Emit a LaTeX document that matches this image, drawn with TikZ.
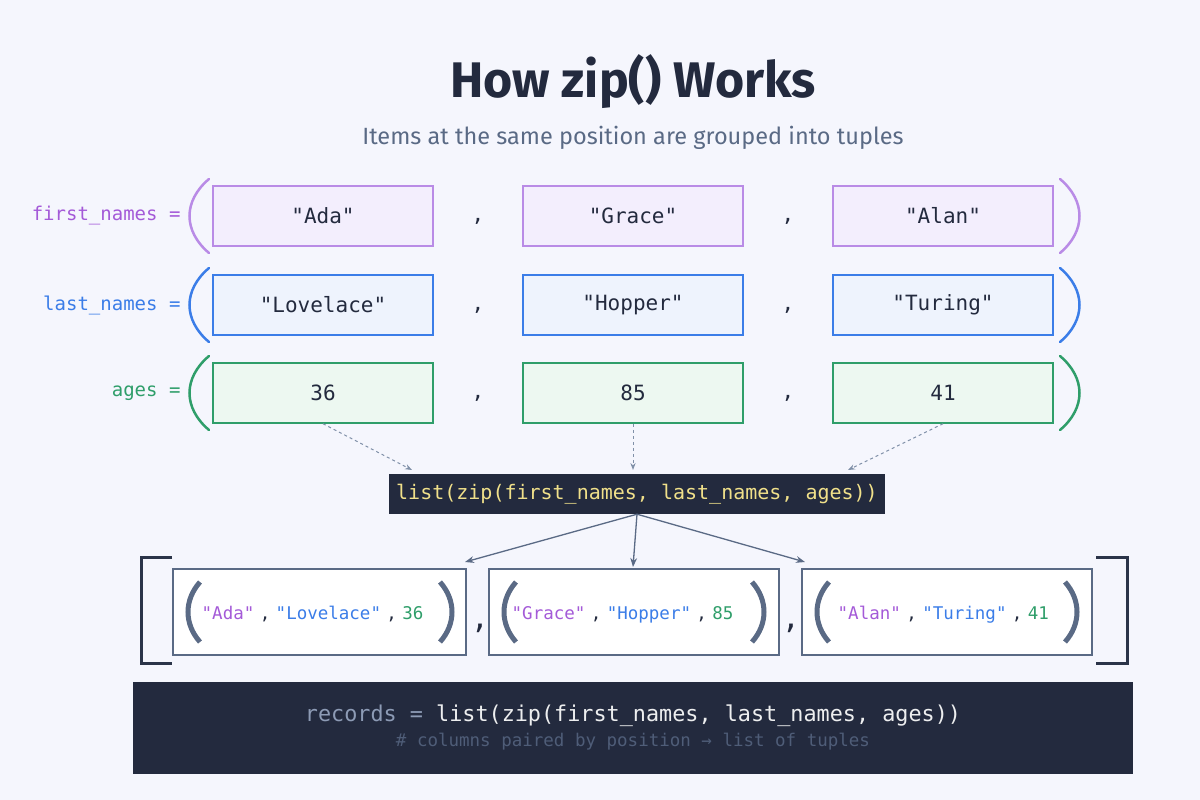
\documentclass[tikz,border=0pt]{standalone}
\usepackage{fontspec}
\setmainfont{Fira Sans}
\newfontfamily\codefont{DejaVu Sans Mono}
\usetikzlibrary{arrows.meta}
\definecolor{bg}{HTML}{F5F6FD}
\definecolor{ink}{HTML}{232A3E}
\definecolor{sub}{HTML}{5A6A85}
\definecolor{pur}{HTML}{A45AD8}
\definecolor{purl}{HTML}{B98BE6}
\definecolor{purf}{HTML}{F3EEFD}
\definecolor{blu}{HTML}{3B7DE8}
\definecolor{bluf}{HTML}{EEF3FD}
\definecolor{grn}{HTML}{2F9E6A}
\definecolor{grnf}{HTML}{EDF8F1}
\definecolor{dash}{HTML}{8090A8}
\definecolor{yel}{HTML}{F0E08A}
\definecolor{cgray}{HTML}{8D9BB5}
\definecolor{cdim}{HTML}{4F5D78}
\tikzset{
 valbox/.style={draw=#1, line width=1.5pt, minimum width=220pt, minimum height=60pt, inner sep=0pt, font=\codefont\fontsize{21}{24}\selectfont, text=ink},
 lbl/.style={anchor=east, font=\codefont\fontsize{19}{22}\selectfont},
 par/.style={line width=2.5pt, line cap=round},
 comma/.style={font=\codefont\fontsize{21}{24}\selectfont, text=ink},
 tbox/.style={draw=sub, fill=white, line width=2pt, minimum height=86pt, inner sep=0pt},
 tpar/.style={draw=sub, line width=5pt},
 tt/.style={font=\codefont\fontsize{17.5}{20}\selectfont, inner sep=2.5pt, anchor=base west},
 darr/.style={draw=dash, dashed, line width=1pt, -{Stealth[length=7pt]}},
 sarr/.style={draw=sub, line width=1.3pt, -{Stealth[length=9pt, open]}},
}
\begin{document}
\begin{tikzpicture}[x=1pt,y=-1pt]
\fill[bg] (0,0) rectangle (1200,800);
\useasboundingbox (0,0) rectangle (1200,800);
\node[font=\bfseries\fontsize{50}{56}\selectfont, text=ink] (title) at (633,82) {How zip() Works};
\node[font=\fontsize{23.5}{28}\selectfont, text=sub] (subt) at (633,138) {Items at the same position are grouped into tuples};
% rows
\foreach \y/\c/\f/\lc/\lab/\a/\b/\d/\n in {216/pur/purf/purl/first\_names =/"Ada"/"Grace"/"Alan"/r1, 305/blu/bluf/blu/last\_names =/"Lovelace"/"Hopper"/"Turing"/r2, 393/grn/grnf/grn/ages =/36/85/41/r3}{
 \node[lbl, text=\c] (\n l) at (184,\y) {\lab};
 \node[valbox=\lc, fill=\f] (\n a) at (323,\y) {\a};
 \node[valbox=\lc, fill=\f] (\n b) at (633,\y) {\b};
 \node[valbox=\lc, fill=\f] (\n c) at (943,\y) {\d};
 \node[comma] (\n x) at (478,\y+5) {,};
 \node[comma] (\n y) at (788,\y+5) {,};
 \draw[par, \lc] (209,\y-37) .. controls (183,\y-15) and (183,\y+15) .. (209,\y+37);
 \draw[par, \lc] (1060,\y-37) .. controls (1086,\y-15) and (1086,\y+15) .. (1060,\y+37);
}
\node[fill=ink, text=yel, font=\codefont\fontsize{20}{22}\selectfont, minimum width=496pt, minimum height=40pt, inner sep=0pt] (call) at (637,494) {list(zip(first\_names, last\_names, ages))};
\coordinate (ta) at (412,470); \coordinate (tb) at (633,470); \coordinate (tc) at (848,470);
\draw[darr] (r3a.south) -- (ta);
\draw[darr] (r3b.south) -- (tb);
\draw[darr] (r3c.south) -- (tc);
% tuples
\node[tbox, minimum width=293pt] (t1) at (319.5,612) {};
\node[tbox, minimum width=290pt] (t2) at (634,612) {};
\node[tbox, minimum width=290pt] (t3) at (947,612) {};
\coordinate (ca) at (465,562); \coordinate (cb) at (633,567); \coordinate (cc) at (805,562);
\draw[sarr] (call.south) -- (ca);
\draw[sarr] (call.south) -- (cb);
\draw[sarr] (call.south) -- (cc);
\draw[line width=3pt, ink!85!sub] (172,557) -- (141,557) -- (141,663) -- (172,663);
\draw[line width=3pt, ink!85!sub] (1096,557) -- (1127,557) -- (1127,663) -- (1096,663);
\foreach \l/\r in {188/452, 504/764, 817/1077}{
 \draw[tpar] (\l+12,582) .. controls (\l-4,600) and (\l-4,624) .. (\l+12,642);
 \draw[tpar] (\r-12,582) .. controls (\r+4,600) and (\r+4,624) .. (\r-12,642);
}
\node[font=\codefont\fontsize{30}{30}\selectfont, text=ink] (k1) at (480,628) {,};
\node[font=\codefont\fontsize{30}{30}\selectfont, text=ink] (k2) at (791,628) {,};
\node[tt, text=pur] (e1) at (199,619) {"Ada"};
\node[tt, text=ink] (f1) at (e1.base east) {,};
\node[tt, text=blu] (g1) at (f1.base east) {"Lovelace"};
\node[tt, text=ink] (h1) at (g1.base east) {,};
\node[tt, text=grn] (i1) at (h1.base east) {36};
\node[tt, text=pur] (e2) at (509,619) {"Grace"};
\node[tt, text=ink] (f2) at (e2.base east) {,};
\node[tt, text=blu] (g2) at (f2.base east) {"Hopper"};
\node[tt, text=ink] (h2) at (g2.base east) {,};
\node[tt, text=grn] (i2) at (h2.base east) {85};
\node[tt, text=pur] (e3) at (835,619) {"Alan"};
\node[tt, text=ink] (f3) at (e3.base east) {,};
\node[tt, text=blu] (g3) at (f3.base east) {"Turing"};
\node[tt, text=ink] (h3) at (g3.base east) {,};
\node[tt, text=grn] (i3) at (h3.base east) {41};
% bottom
\fill[ink] (133,682) rectangle (1133,774);
\node[font=\codefont\fontsize{21.8}{24}\selectfont] (rec) at (633,716) {\textcolor{cgray}{records =} \textcolor{white!92!ink}{list(zip(first\_names, last\_names, ages))}};
\node[font=\codefont\fontsize{17.5}{20}\selectfont, text=cdim] (cmt) at (633,742) {\# columns paired by position → list of tuples};
\end{tikzpicture}
\end{document}
